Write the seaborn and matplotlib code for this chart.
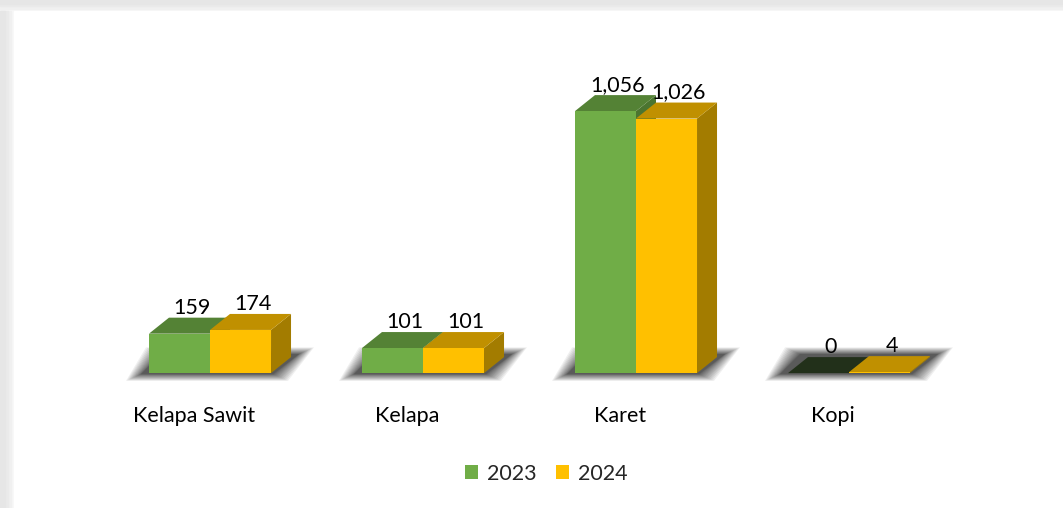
#!/usr/bin/env python3

import numpy as np
import pandas as pd
import matplotlib
matplotlib.use("Agg")
import matplotlib.pyplot as plt
import seaborn as sns
from matplotlib.patches import Polygon, Rectangle
from matplotlib.transforms import ScaledTranslation

# -----------------------------------------------------------------------------
# Data
# -----------------------------------------------------------------------------

categories = ["Kelapa Sawit", "Kelapa", "Karet", "Kopi"]
years = ["2023", "2024"]
values_2023 = [159, 101, 1056, 0]
values_2024 = [174, 101, 1026, 4]

front_colors = {"2023": "#70AD47", "2024": "#FFC000"}
top_colors = {"2023": "#548235", "2024": "#C09000"}
side_colors = {"2023": "#4B7530", "2024": "#A37C00"}
zero_top = "#22301A"

df = pd.DataFrame({
    "Komoditas": categories * 2,
    "Tahun": ["2023"] * len(categories) + ["2024"] * len(categories),
    "Nilai": values_2023 + values_2024,
})

# -----------------------------------------------------------------------------
# Figure
# -----------------------------------------------------------------------------

sns.set_theme(style="white")
plt.rcParams["font.family"] = ["Lato", "DejaVu Sans"]

W, H, DPI = 1063, 508, 100
fig = plt.figure(figsize=(W / DPI, H / DPI), dpi=DPI)
fig.patch.set_facecolor("white")

# panel shadow along top and left edge
for i, c in enumerate(["#F7F7F7", "#F0F0F0", "#EAEAEA", "#E6E6E6"]):
    fig.patches.append(Rectangle((0, 1 - (11 - i * 2.5) / H), 1, (11 - i * 2.5) / H,
                                 transform=fig.transFigure, color=c, zorder=-10 + i))
    fig.patches.append(Rectangle((0, 0), (14 - i * 3) / W, 1 - 11 / H,
                                 transform=fig.transFigure, color=c, zorder=-10 + i))
fig.patches.append(Rectangle((14 / W, 0), 1, 1 - 11 / H, transform=fig.transFigure,
                             color="white", zorder=-5))

XLIM = (-0.75, 3.75)
YLIM = (-60, 1262)
ax_left_px, ax_bottom_px = 50.25, 388
ax_w_px, ax_h_px = 958.5, 328
ax = fig.add_axes([ax_left_px / W, (H - ax_bottom_px) / H, ax_w_px / W, ax_h_px / H])
ax.patch.set_alpha(0)

sns.barplot(data=df, x="Komoditas", y="Nilai", hue="Tahun", order=categories,
            hue_order=years, palette=front_colors, width=0.573, gap=0,
            linewidth=0, saturation=1, ax=ax)
ax.set_xlim(*XLIM)
ax.set_ylim(*YLIM)

# pixel -> data units
ux = (XLIM[1] - XLIM[0]) / ax_w_px
uy = (YLIM[1] - YLIM[0]) / ax_h_px
dx, dy = 20 * ux, 16 * uy

# -----------------------------------------------------------------------------
# 3D faces, floor shadow, labels
# -----------------------------------------------------------------------------

n = len(categories)
bars = ax.patches[: 2 * n]
for k, year in enumerate(years):
    for j in range(n):
        b = bars[k * n + j]
        x0, w, h = b.get_x(), b.get_width(), b.get_height()
        z = 2 + k
        b.set_zorder(z + 0.2)
        side = Polygon([(x0 + w, 0), (x0 + w + dx, dy), (x0 + w + dx, h + dy), (x0 + w, h)],
                       closed=True, facecolor=side_colors[year], edgecolor="none", zorder=z)
        tc = zero_top if h == 0 else top_colors[year]
        top = Polygon([(x0, h), (x0 + w, h), (x0 + w + dx, h + dy), (x0 + dx, h + dy)],
                      closed=True, facecolor=tc, edgecolor="none", zorder=z + 0.1)
        ax.add_patch(side)
        ax.add_patch(top)
        ax.text(x0 + w / 2 + 0.6 * dx, h + dy, f"{h:,.0f}", ha="center", va="bottom",
                fontsize=15.5, color="black", zorder=10)

# soft shadow on the floor under each group (stacked layers fake a blur)
for j in range(n):
    L = bars[j].get_x()
    R = bars[n + j].get_x() + bars[n + j].get_width()
    layers = 18
    for i in range(layers):
        e = 15 * (i / (layers - 1)) ** 1.5
        poly = Polygon([(L - (8 + e) * ux, -(1 + 0.45 * e) * uy),
                        (R + (2 + e) * ux, -(1 + 0.45 * e) * uy),
                        (R + dx + (8 + e) * ux, dy + (3 + 0.45 * e) * uy),
                        (L + dx - (8 + e) * ux, dy + (3 + 0.45 * e) * uy)],
                       closed=True, facecolor="#1E1E1E", edgecolor="none",
                       alpha=0.065, zorder=1)
        ax.add_patch(poly)

# -----------------------------------------------------------------------------
# Axes styling
# -----------------------------------------------------------------------------

sns.despine(ax=ax, left=True, bottom=True)
ax.set_xlabel("")
ax.set_ylabel("")
ax.set_yticks([])
ax.tick_params(axis="x", length=0, pad=13, labelsize=15.5, labelcolor="black")
shift = ScaledTranslation(-16 / DPI, 0, fig.dpi_scale_trans)
for lab in ax.get_xticklabels():
    lab.set_transform(lab.get_transform() + shift)

sns.move_legend(ax, "center", bbox_to_anchor=(546 / W, 1 - 474 / H),
                bbox_transform=fig.transFigure, ncol=2, frameon=False, title=None,
                fontsize=15.5, handlelength=0.62, handleheight=0.62,
                handletextpad=0.4, columnspacing=0.9)

fig.savefig("out.png", dpi=DPI)
